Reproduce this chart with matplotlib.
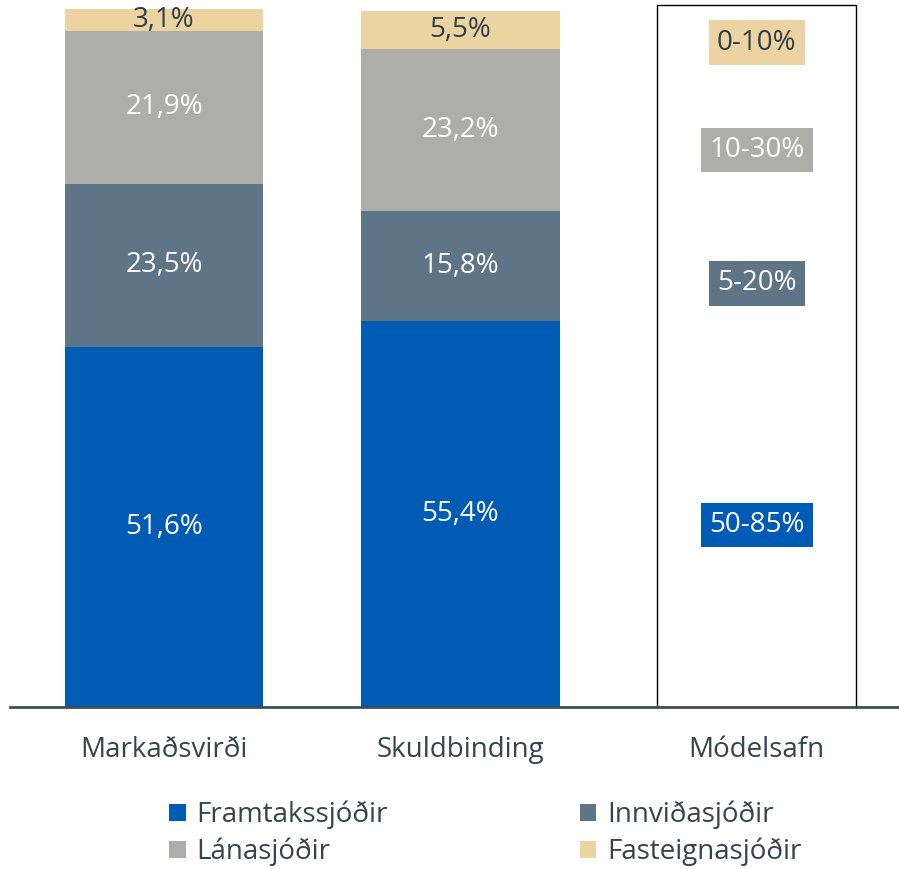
import numpy as np
import matplotlib.pyplot as plt
from matplotlib.patches import Patch

plt.rcParams['font.family'] = ['Open Sans', 'DejaVu Sans']

# ===== 数据 =====
categories = ["Markaðsvirði", "Skuldbinding", "Módelsafn"]
series_names = ["Framtakssjóðir", "Innviðasjóðir", "Lánasjóðir", "Fasteignasjóðir"]
framtak = [51.6, 55.4]
innvida = [23.5, 15.8]
lana = [21.9, 23.2]
fasteign = [3.1, 5.5]
model_ranges = ["50-85%", "5-20%", "10-30%", "0-10%"]
model_label_y = [26.1, 60.8, 79.9, 95.3]

colors = ["#005BB5", "#5E7588", "#ADAEA9", "#EBD4A1"]
text_colors = ["white", "white", "white", "#2E3E4A"]
dark = "#34444F"

fig = plt.figure(figsize=(8.99, 8.69), dpi=100)
W, H = 899, 869
ax = fig.add_axes([10 / W, 1 - 707 / H, 889 / W, 707 / H])

x = np.arange(len(categories))
width = 0.67
fs = 20
series = [framtak, innvida, lana, fasteign]
bottom = np.zeros(2)
for vals, col, tcol in zip(series, colors, text_colors):
    vals = np.array(vals)
    ax.bar(x[:2], vals, width, bottom=bottom, color=col, edgecolor="none")
    for xi, b, v in zip(x[:2], bottom, vals):
        ax.text(xi, b + v / 2, f"{v:.1f}%".replace(".", ","), ha="center", va="center",
                color=tcol, fontsize=fs)
    bottom += vals

# Módelsafn: tómur kassi með bilum
ax.bar(x[2], 100.7, width, bottom=0.0, facecolor="white", edgecolor="black", linewidth=1.0)
for lab, yv, col, tcol in zip(model_ranges, model_label_y, colors, text_colors):
    ax.text(x[2], yv, lab, ha="center", va="center", color=tcol, fontsize=fs,
            bbox=dict(boxstyle="square,pad=0.3", facecolor=col, edgecolor="none"))

ax.set_xlim(-0.52, 2.48)
ax.set_ylim(0, 707 / 6.97)
for s in ["top", "right", "left"]:
    ax.spines[s].set_visible(False)
ax.spines["bottom"].set_color("#3E4E5A")
ax.spines["bottom"].set_linewidth(2)
ax.set_yticks([])
ax.set_xticks(x)
ax.set_xticklabels(categories, fontsize=fs, color=dark)
ax.tick_params(axis="x", length=0, pad=21)
ax.patch.set_alpha(0)

handles = [Patch(facecolor=c, edgecolor="none") for c in colors]
order = [0, 2, 1, 3]
fig.legend([handles[i] for i in order], [series_names[i] for i in order],
           ncol=2, loc="upper left", bbox_to_anchor=(155 / W, 1 - 787 / H),
           frameon=False, fontsize=fs, labelcolor=dark, handlelength=0.6,
           handleheight=0.6, handletextpad=0.4, columnspacing=6.9, labelspacing=0.3,
           borderpad=0)

fig.savefig("out.png", dpi=100)
